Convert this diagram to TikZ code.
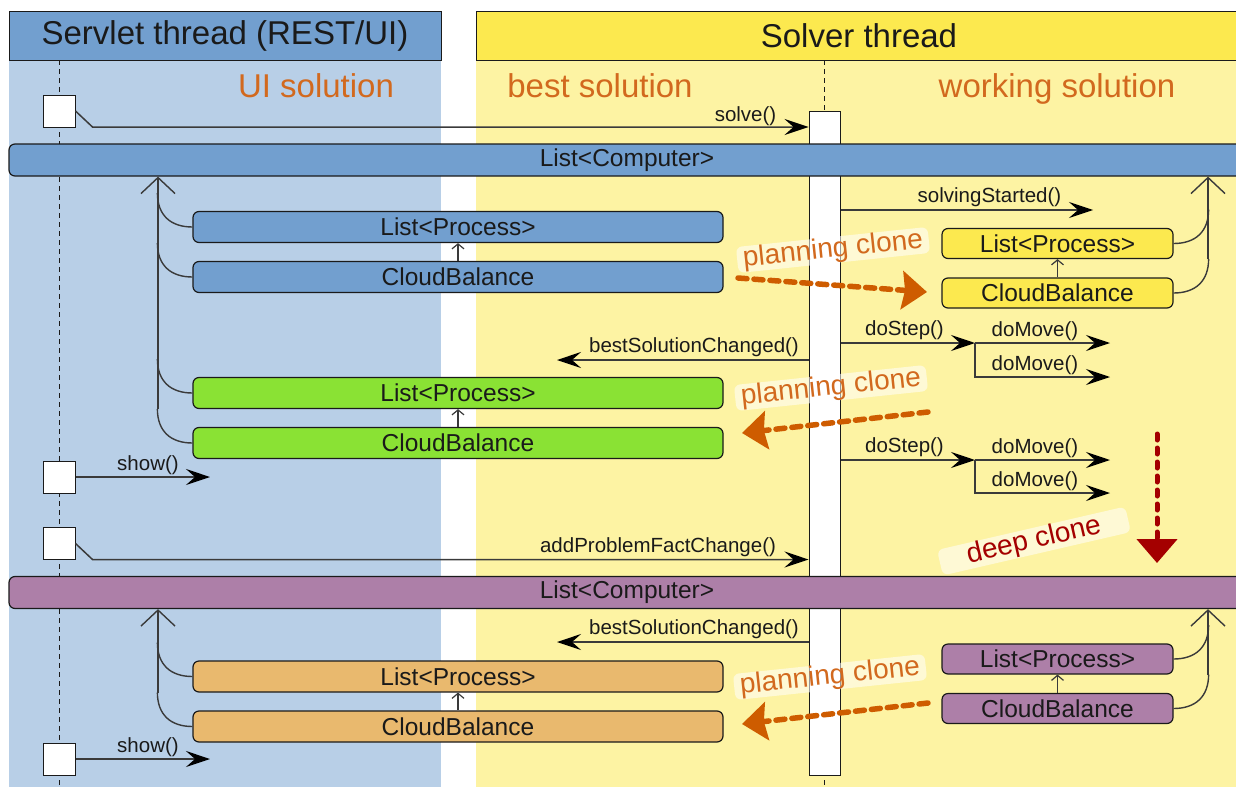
\documentclass[tikz,border=0pt]{standalone}
\usepackage{fontspec}
\setmainfont{Liberation Sans}
\usetikzlibrary{arrows.meta,calc}
\definecolor{hdrblue}{HTML}{729FCF}
\definecolor{bodyblue}{HTML}{B8CFE7}
\definecolor{hdryellow}{HTML}{FCE94F}
\definecolor{bodyyellow}{HTML}{FDF3A3}
\definecolor{boxgreen}{HTML}{8AE234}
\definecolor{boxorange}{HTML}{E9B96E}
\definecolor{boxpurple}{HTML}{AD7FA8}
\definecolor{txtorange}{HTML}{D2691E}
\definecolor{cloneorange}{HTML}{CE5C00}
\definecolor{deepred}{HTML}{A40000}
\definecolor{ink}{HTML}{1A1A1A}
\definecolor{msgline}{HTML}{3A3A3A}
\begin{document}
\begin{tikzpicture}[x=1pt,y=-1pt,
  hdr/.style={draw=ink,line width=1pt,inner sep=0pt,minimum height=49pt,font=\fontsize{33}{36}\selectfont,text=ink},
  lane/.style={font=\fontsize{33}{36}\selectfont,text=txtorange,inner sep=0pt,anchor=base},
  objbox/.style={draw=ink,line width=1.2pt,rounded corners=6pt,inner sep=0pt,font=\fontsize{24.5}{28}\selectfont,text=ink},
  bigbox/.style={objbox,minimum width=530pt,minimum height=31pt},
  smallbox/.style={objbox,minimum width=231pt,minimum height=30pt},
  barbox/.style={objbox,minimum width=1236pt,minimum height=32pt},
  actbox/.style={draw=ink,line width=1pt,fill=white,inner sep=0pt,minimum size=32pt},
  msg/.style={draw=msgline,line width=1.5pt,-{Stealth[length=24pt,width=16pt,inset=9pt,color=black]}},
  msglabel/.style={font=\fontsize{20.5}{22}\selectfont,text=ink,inner sep=0pt,anchor=base},
  lifeline/.style={draw=ink,line width=1pt,dash pattern=on 5pt off 4pt},
  comp/.style={draw=msgline,line width=1.4pt,-{Straight Barb[length=16pt,width=34pt]}},
  link/.style={draw=msgline,line width=1.4pt},
  minicomp/.style={draw=msgline,line width=1.2pt,-{Straight Barb[length=5pt,width=12pt]}},
  clonetext/.style={font=\fontsize{28}{30}\selectfont,text=txtorange,fill=white,fill opacity=0.55,text opacity=1,rounded corners=6pt,rotate=6,inner xsep=6pt,inner ysep=0pt},
  clone/.style={draw=cloneorange,line width=5.5pt,dash pattern=on 9pt off 7pt,line cap=round,-{Stealth[length=25pt,width=38pt,inset=3pt]}},
  deep/.style={draw=deepred,line width=5pt,dash pattern=on 6pt off 8pt,line cap=round,-{Triangle[length=24pt,width=40pt]}},
]
\useasboundingbox (0,0) rectangle (1236,787);
% lane bodies
\fill[bodyblue] (9,60) rectangle (441,787);
\fill[bodyyellow] (476,60) rectangle (1240,787);
% headers
\node[hdr,fill=hdrblue,minimum width=432pt] (svh) at (225,35.5) {Servlet thread (REST/UI)};
\node[hdr,fill=hdryellow,minimum width=766pt] (soh) at (859,35.5) {Solver thread};
% lane titles
\node[lane] (uis) at (316,97) {UI solution};
\node[lane] (bes) at (600,97) {best solution};
\node[lane] (wos) at (1057,97) {working solution};
% lifelines
\coordinate (sv0) at (59,60); \coordinate (sv1) at (59,787);
\draw[lifeline] (sv0) -- (sv1);
\coordinate (so0) at (824.5,60); \coordinate (so1) at (824.5,787);
\draw[lifeline] (so0) -- (so1);
% activations
\node[actbox] (a1) at (59,111) {};
\node[actbox] (a2) at (59,477) {};
\node[actbox] (a3) at (59,543.5) {};
\node[actbox] (a4) at (59,759) {};
\node[draw=ink,line width=1pt,fill=white,minimum width=31pt,minimum height=664pt,inner sep=0pt] (sa) at (824.5,443) {};
% bars
\node[barbox,fill=hdrblue] (cb1) at (627,160) {List<Computer>};
\node[barbox,fill=boxpurple] (cb2) at (627,592.5) {List<Computer>};
% object boxes
\node[bigbox,fill=hdrblue] (bl) at (458,227) {List<Process>};
\node[bigbox,fill=hdrblue] (bc) at (458,277) {CloudBalance};
\node[bigbox,fill=boxgreen] (gl) at (458,393) {List<Process>};
\node[bigbox,fill=boxgreen] (gc) at (458,443) {CloudBalance};
\node[bigbox,fill=boxorange] (ol) at (458,676.5) {List<Process>};
\node[bigbox,fill=boxorange] (oc) at (458,726.5) {CloudBalance};
\node[smallbox,fill=hdryellow] (yl) at (1057.5,243.5) {List<Process>};
\node[smallbox,fill=hdryellow] (yc) at (1057.5,293) {CloudBalance};
\node[smallbox,fill=boxpurple] (pl) at (1057.5,659) {List<Process>};
\node[smallbox,fill=boxpurple] (pc) at (1057.5,708.5) {CloudBalance};
% inner references
\draw[minicomp] (bc.north) -- (bl.south);
\draw[minicomp] (gc.north) -- (gl.south);
\draw[minicomp] (oc.north) -- (ol.south);
\draw[minicomp] (yc.north) -- (yl.south);
\draw[minicomp] (pc.north) -- (pl.south);
% composition links
\coordinate (lb1) at (158,409); \draw[comp] (lb1) -- (lb1 |- cb1.south);
\coordinate (lb2) at (158,692.5); \draw[comp] (lb2) -- (lb2 |- cb2.south);
\coordinate (rb1) at (1208,259); \draw[comp] (rb1) -- (rb1 |- cb1.south);
\coordinate (rb2) at (1208,674.5); \draw[comp] (rb2) -- (rb2 |- cb2.south);
\foreach \n in {bl,bc,gl,gc,ol,oc}
  \draw[link] (\n.west) .. controls ($(\n.west)+(-22,0)$) and ($(\n.west)+(-35,-12)$) .. ($(\n.west)+(-35,-34)$);
\foreach \n in {yl,yc,pl,pc}
  \draw[link] (\n.east) .. controls ($(\n.east)+(22,0)$) and ($(\n.east)+(35,-12)$) .. ($(\n.east)+(35,-34)$);
% messages
\draw[msg] (a1.east) -- ++(17,16) coordinate (s1k) -- (s1k -| sa.west);
\node[msglabel] (lsolve) at (745.5,121) {solve()};
\coordinate (ss1) at (1093,210);
\draw[msg] (ss1 -| sa.east) -- (ss1);
\node[msglabel] (lss) at (989.5,202) {solvingStarted()};
\coordinate (bs1) at (557,360);
\draw[msg] (bs1 -| sa.west) -- (bs1);
\node[msglabel] (lbs1) at (694,352) {bestSolutionChanged()};
\coordinate (bs2) at (557,642);
\draw[msg] (bs2 -| sa.west) -- (bs2);
\node[msglabel] (lbs2) at (694,634) {bestSolutionChanged()};
% doStep 1
\coordinate (d1) at (975,343);
\coordinate (m1a) at (1110,343); \coordinate (m1b) at (1110,377);
\draw[msg] (d1 -| sa.east) -- (d1);
\draw[msg] (d1) -- (m1a);
\draw[msg] (d1) |- (m1b);
\node[msglabel] (lds1) at (904.5,335) {doStep()};
\node[msglabel] (ldm1) at (1035,336) {doMove()};
\node[msglabel] (ldm2) at (1035,370) {doMove()};
% doStep 2
\coordinate (d2) at (975,460);
\coordinate (m2a) at (1110,460); \coordinate (m2b) at (1110,493);
\draw[msg] (d2 -| sa.east) -- (d2);
\draw[msg] (d2) -- (m2a);
\draw[msg] (d2) |- (m2b);
\node[msglabel] (lds2) at (904.5,452) {doStep()};
\node[msglabel] (ldm3) at (1035,453) {doMove()};
\node[msglabel] (ldm4) at (1035,486) {doMove()};
% show
\coordinate (sh1) at (210,477);
\draw[msg] (a2.east) -- (sh1);
\node[msglabel] (lsh1) at (148,470) {show()};
\coordinate (sh2) at (210,759);
\draw[msg] (a4.east) -- (sh2);
\node[msglabel] (lsh2) at (148,752) {show()};
% addProblemFactChange
\draw[msg] (a3.east) -- ++(17,16) coordinate (apk) -- (apk -| sa.west);
\node[msglabel] (lapf) at (658,552) {addProblemFactChange()};
% planning clones
\coordinate (c1s) at (738,278); \coordinate (c1e) at (927,292);
\draw[clone] (c1s) -- (c1e);
\coordinate (c2s) at (928,412); \coordinate (c2e) at (742,433);
\draw[clone] (c2s) -- (c2e);
\coordinate (c3s) at (928,703); \coordinate (c3e) at (742,724);
\draw[clone] (c3s) -- (c3e);
\node[clonetext] (pct1) at (833,250) {planning clone};
\node[clonetext] (pct2) at (831,388) {planning clone};
\node[clonetext] (pct3) at (830,677) {planning clone};
% deep clone
\coordinate (dcs) at (1157,434); \coordinate (dce) at (1157,563);
\draw[deep] (dcs) -- (dce);
\node[clonetext,text=deepred,rotate=7,inner xsep=28pt,inner ysep=0pt] (dct) at (1034,541) {deep clone};
\end{tikzpicture}
\end{document}
